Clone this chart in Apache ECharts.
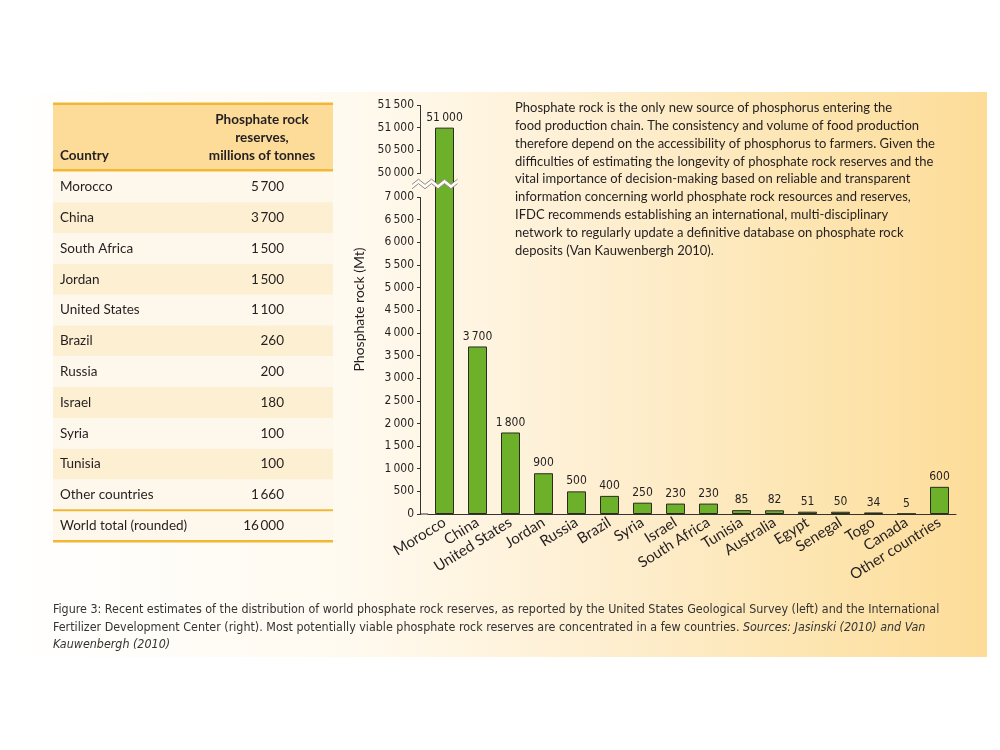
<!DOCTYPE html>
<html><head><meta charset="utf-8">
<script src="https://cdn.jsdelivr.net/npm/echarts@6/dist/echarts.min.js"></script>
<style>
html,body{margin:0;padding:0;background:#fff}
#bg{position:absolute;left:0;top:92px;width:987px;height:565px;
background:linear-gradient(to right,#ffffff 0%,#fffaf0 35%,#feefd2 60%,#fde4ad 85%,#fddc98 100%)}
#c{position:absolute;left:0;top:0;width:1000px;height:750px}
</style>
</head><body><div id="bg"></div><div id="c"></div>
<script>
// ---- data ----
const categories = ['Morocco','China','United States','Jordan','Russia','Brazil','Syria','Israel','South Africa','Tunisia','Australia','Egypt','Senegal','Togo','Canada','Other countries'];
const reserves = [51000,3700,1800,900,500,400,250,230,230,85,82,51,50,34,5,600];
const yMin = 0, yMax = 51500, yStep = 500;
const breakStart = 7000, breakEnd = 50000;
const tableCountries = ['Morocco','China','South Africa','Jordan','United States','Brazil','Russia','Israel','Syria','Tunisia','Other countries'];
const tableValues = [5700,3700,1500,1500,1100,260,200,180,100,100,1660];
const totalLabel = 'World total (rounded)';
const totalValue = 16000;
const headCountry = 'Country';
const headValue = ['Phosphate rock','reserves,','millions of tonnes'];
const yAxisName = 'Phosphate rock (Mt)';
const paragraph = [
 'Phosphate rock is the only new source of phosphorus entering the',
 'food production chain. The consistency and volume of food production',
 'therefore depend on the accessibility of phosphorus to farmers. Given the',
 'difficulties of estimating the longevity of phosphate rock reserves and the',
 'vital importance of decision-making based on reliable and transparent',
 'information concerning world phosphate rock resources and reserves,',
 'IFDC recommends establishing an international, multi-disciplinary',
 'network to regularly update a definitive database on phosphate rock',
 'deposits (Van Kauwenbergh 2010).'
];
const caption = [
 [['n','Figure 3: Recent estimates of the distribution of world phosphate rock reserves, as reported by the United States Geological Survey (left) and the International']],
 [['n','Fertilizer Development Center (right). Most potentially viable phosphate rock reserves are concentrated in a few countries. '],['i','Sources: Jasinski (2010) and Van']],
 [['i','Kauwenbergh (2010)']]
];

// ---- helpers ----
const fmt = n => String(n).replace(/\B(?=(\d{3})+(?!\d))/g, '\u2009');
const TXT = '#231f20';
const NARROW = "'Liberation Sans Narrow','DejaVu Sans Condensed',sans-serif";
const HUM = "Lato,'Open Sans',sans-serif";

// ---- table graphics ----
const g = [];
const TX = 53, TW = 280, headTop = 104, headBot = 170, rowH = 30.8;
const gold = '#f2b835';
g.push({type:'rect',shape:{x:TX,y:headTop,width:TW,height:headBot-headTop},style:{fill:'#fddc9a'},z:1});
g.push({type:'rect',shape:{x:TX,y:headTop-1.5,width:TW,height:2.5},style:{fill:gold},z:2});
g.push({type:'rect',shape:{x:TX,y:headBot-1,width:TW,height:2.5},style:{fill:gold},z:2});
g.push({type:'text',style:{text:headCountry,x:60,y:156,fontSize:13.5,fontWeight:'bold',fontFamily:HUM,fill:TXT,textVerticalAlign:'middle'},z:3});
headValue.forEach((t,i)=>g.push({type:'text',style:{text:t,x:262,y:120+i*18,fontSize:13.5,fontWeight:'bold',fontFamily:HUM,fill:TXT,textAlign:'center',textVerticalAlign:'middle'},z:3}));
const rows = tableCountries.map((c,i)=>[c,tableValues[i]]).concat([[totalLabel,totalValue]]);
rows.forEach((r,i)=>{
  const top = headBot + 1.5 + i*rowH;
  g.push({type:'rect',shape:{x:TX,y:top,width:TW,height:rowH},style:{fill:(i%2===1 && i<rows.length-1)?'#fdefd2':'#fef8ec'},z:1});
  g.push({type:'text',style:{text:r[0],x:60,y:top+rowH/2,fontSize:13.5,fontFamily:HUM,fill:TXT,textVerticalAlign:'middle'},z:3});
  g.push({type:'text',style:{text:fmt(r[1]),x:284,y:top+rowH/2,fontSize:13.5,fontFamily:HUM,fill:TXT,textAlign:'right',textVerticalAlign:'middle'},z:3});
});
const lineTotal = headBot + 1.5 + (rows.length-1)*rowH;
g.push({type:'rect',shape:{x:TX,y:lineTotal-1,width:TW,height:2},style:{fill:gold},z:2});
g.push({type:'rect',shape:{x:TX,y:lineTotal+rowH-1,width:TW,height:2.5},style:{fill:gold},z:2});

// paragraph
paragraph.forEach((t,i)=>g.push({type:'text',z:300,style:{text:t,x:515,y:108+i*17.8,fontSize:13,fontFamily:HUM,fill:TXT,textVerticalAlign:'middle'}}));
// caption
caption.forEach((parts,i)=>g.push({type:'text',z:300,style:{
  text:parts.map(p=>'{'+p[0]+'|'+p[1]+'}').join(''),x:53,y:610+i*17.5,textVerticalAlign:'middle',
  rich:{n:{fontSize:12.4,fontFamily:NARROW,fill:'#333'},i:{fontSize:12.4,fontFamily:NARROW,fontStyle:'italic',fill:'#333'}}}}));

const GRID_LEFT = 428, Y_OFFSET = 8;
const chart = echarts.init(document.getElementById('c'));
chart.setOption({
  animation:false,
  grid:{left:GRID_LEFT,right:44,top:105,bottom:236},
  xAxis:{type:'category',data:categories,
    axisLine:{lineStyle:{color:'#333',width:1}},axisTick:{show:false},
    axisLabel:{interval:0,rotate:32,fontSize:15,fontFamily:HUM,color:TXT,margin:7}},
  yAxis:{type:'value',min:yMin,max:yMax,interval:yStep,offset:Y_OFFSET,
    name:yAxisName,nameLocation:'middle',nameGap:52,nameTextStyle:{fontSize:14,fontFamily:HUM,color:TXT},
    breaks:[{start:breakStart,end:breakEnd,gap:'5.9%'}],
    breakArea:{show:false,expandOnClick:false},
    axisLine:{show:true,lineStyle:{color:'#333',width:1}},
    axisTick:{show:true,length:3,lineStyle:{color:'#333'}},
    splitLine:{show:false},
    axisLabel:{fontSize:12,fontFamily:NARROW,color:TXT,margin:6,
      formatter:v=> (v%yStep===0) ? fmt(v) : ''}},
  series:[{type:'bar',data:reserves,barWidth:19,
    itemStyle:{color:'#6db12b',borderColor:'#2b2b20',borderWidth:1},
    label:{show:true,position:'top',distance:4,fontSize:12,fontFamily:NARROW,color:TXT,formatter:p=>fmt(p.value)}}],
  graphic:{elements:g}
});

// zigzag break marker over the axis and the broken bar, placed from the axis scale
const yA = chart.convertToPixel({yAxisIndex:0}, breakStart);
const yB = chart.convertToPixel({yAxisIndex:0}, breakEnd);
const y0 = chart.convertToPixel({yAxisIndex:0}, 0);
const xBar = chart.convertToPixel({xAxisIndex:0}, 0);
const yc = (yA + yB) / 2 - 1;
const x0 = GRID_LEFT - 16, x1 = xBar + 18;
const amp = 2.6, half = 6.5, sep = 2.2;
const topPts = [], botPts = [];
for (let x = x0, k = 0; x <= x1 + 0.01; x += half, k++) {
  const off = (k % 2 === 0 ? amp : -amp);
  topPts.push([x, yc - sep + off]);
  botPts.push([x, yc + sep + off]);
}
chart.setOption({graphic:{elements:g.concat([
  {type:'line',z:50,shape:{x1:GRID_LEFT-Y_OFFSET,y1:y0,x2:GRID_LEFT,y2:y0},style:{stroke:'#333',lineWidth:1}},
  {type:'polygon',z:200,shape:{points:topPts.concat(botPts.slice().reverse())},style:{fill:'#fffaf2'}},
  {type:'polyline',z:201,shape:{points:topPts},style:{stroke:'#8c8c8c',lineWidth:1,fill:null}},
  {type:'polyline',z:201,shape:{points:botPts},style:{stroke:'#8c8c8c',lineWidth:1,fill:null}}
])}});
</script>
</body></html>
